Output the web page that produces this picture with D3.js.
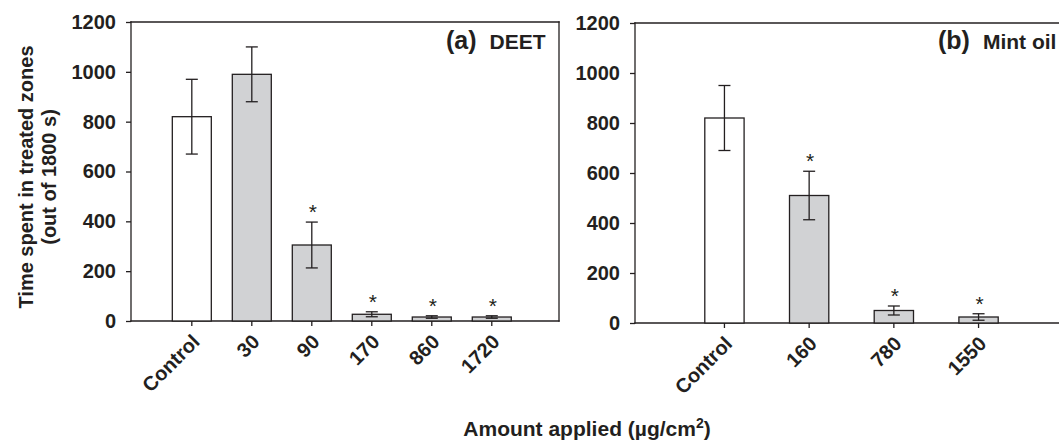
<!doctype html>
<html lang="en">
  <head>
    <meta charset="utf-8">
    <title>Time spent in treated zones</title>
    <script src="https://d3js.org/d3.v7.min.js"></script>
    <style>
      html, body { margin: 0; background: white; overflow: hidden; }
      svg { display: block; }
      text { font-family: "Liberation Sans", Arial, sans-serif; fill: #231f20; }
      .axis text { font-size: 20px; font-weight: bold; }
      .axis path, .axis line { stroke: #231f20; stroke-width: 1.3; }
    </style>
  </head>

  <body>
    <svg width="1059" height="440"></svg>
    <script>
      var yTicks = [0, 200, 400, 600, 800, 1000, 1200];

      var categoriesA = ['Control', '30', '90', '170', '860', '1720'];
      var meansA = [820, 990, 305, 27, 16, 16];
      var errorsA = [150, 110, 92, 10, 5, 5];
      var starsA = [false, false, true, true, true, true];

      var categoriesB = ['Control', '160', '780', '1550'];
      var meansB = [820, 510, 50, 24];
      var errorsB = [130, 97, 18, 13];
      var starsB = [false, true, true, true];

      var svg = d3.select('svg');
      var ink = '#231f20';

      function panel(opts) {
        var x = d3.scaleBand()
          .domain(opts.cats)
          .range([opts.left, opts.right])
          .paddingInner(opts.pi)
          .paddingOuter(opts.po)
          .align(opts.align);

        var y = d3.scaleLinear()
          .domain([0, 1200])
          .range([opts.bottom, opts.top]);

        var rows = opts.cats.map(function(c, i) {
          return { cat: c, mean: opts.means[i], err: opts.errs[i], star: opts.stars[i], i: i };
        });

        var g = svg.append('g');

        // frame: left + bottom double as axis lines; panel b runs off the right edge
        var frame = [[opts.left, opts.top, opts.right, opts.top],
                     [opts.left, opts.top, opts.left, opts.bottom],
                     [opts.left, opts.bottom, opts.right, opts.bottom]];
        if (opts.rightLine) frame.push([opts.right, opts.top, opts.right, opts.bottom]);
        g.selectAll('line.frame').data(frame).enter().append('line')
          .attr('class', 'frame')
          .attr('x1', function(d) { return d[0]; }).attr('y1', function(d) { return d[1]; })
          .attr('x2', function(d) { return d[2]; }).attr('y2', function(d) { return d[3]; })
          .attr('stroke', ink).attr('stroke-width', 1.3).attr('stroke-linecap', 'square');

        g.selectAll('rect.bar').data(rows).enter().append('rect')
          .attr('class', 'bar')
          .attr('x', function(d) { return x(d.cat); })
          .attr('y', function(d) { return y(d.mean); })
          .attr('width', x.bandwidth())
          .attr('height', function(d) { return y(0) - y(d.mean); })
          .attr('fill', function(d) { return d.i === 0 ? 'white' : '#d1d2d4'; })
          .attr('stroke', ink).attr('stroke-width', 1.3);

        var cx = function(d) { return x(d.cat) + x.bandwidth() / 2; };

        var eb = g.selectAll('g.err').data(rows).enter().append('g')
          .attr('class', 'err').attr('stroke', ink).attr('stroke-width', 1.3);
        eb.append('line')
          .attr('x1', cx).attr('x2', cx)
          .attr('y1', function(d) { return y(d.mean + d.err); })
          .attr('y2', function(d) { return y(d.mean - d.err); });
        eb.append('line')
          .attr('x1', function(d) { return cx(d) - 6; }).attr('x2', function(d) { return cx(d) + 6; })
          .attr('y1', function(d) { return y(d.mean + d.err); })
          .attr('y2', function(d) { return y(d.mean + d.err); });
        eb.append('line')
          .attr('x1', function(d) { return cx(d) - 6; }).attr('x2', function(d) { return cx(d) + 6; })
          .attr('y1', function(d) { return y(d.mean - d.err); })
          .attr('y2', function(d) { return y(d.mean - d.err); });

        g.selectAll('text.star').data(rows.filter(function(d) { return d.star; })).enter().append('text')
          .attr('class', 'star')
          .attr('x', function(d) { return cx(d) + 1; })
          .attr('y', function(d) { return y(d.mean + d.err) - 3; })
          .attr('text-anchor', 'middle')
          .style('font-size', '21px')
          .text('*');

        var yAxis = g.append('g')
          .attr('class', 'axis')
          .attr('transform', 'translate(' + opts.left + ',0)')
          .call(d3.axisLeft(y).tickValues(yTicks).tickFormat(d3.format('d'))
            .tickSize(5).tickSizeOuter(0).tickPadding(10));
        yAxis.select('.domain').remove();

        var xAxis = g.append('g')
          .attr('class', 'axis')
          .attr('transform', 'translate(0,' + opts.bottom + ')')
          .call(d3.axisBottom(x).tickSize(5).tickSizeOuter(0));
        xAxis.select('.domain').remove();
        xAxis.selectAll('text')
          .attr('x', 0).attr('y', 0).attr('dy', 0)
          .attr('text-anchor', 'end')
          .attr('transform', 'translate(9,22) rotate(-45)');

        var lab = g.append('text')
          .attr('x', opts.labelX).attr('y', 49)
          .style('font-weight', 'bold');
        lab.append('tspan').style('font-size', '25px').text(opts.tag);
        lab.append('tspan').attr('dx', 13).style('font-size', '21px').text(opts.name);
      }

      panel({
        cats: categoriesA, means: meansA, errs: errorsA, stars: starsA,
        left: 131, right: 559, rightLine: true, top: 22, bottom: 321,
        pi: 0.35, po: 0.742, align: 0.464,
        tag: '(a)', name: 'DEET', labelX: 446
      });

      panel({
        cats: categoriesB, means: meansB, errs: errorsB, stars: starsB,
        left: 635, right: 1068, rightLine: false, top: 23, bottom: 323,
        pi: 0.536, po: 0.824, align: 0.5,
        tag: '(b)', name: 'Mint oil', labelX: 938
      });

      // y axis title
      var yt = svg.append('text')
        .attr('transform', 'translate(33,177) rotate(-90)')
        .attr('text-anchor', 'middle')
        .style('font-size', '20px').style('font-weight', 'bold');
      yt.append('tspan').attr('x', 0).attr('y', 0).text('Time spent in treated zones');
      yt.append('tspan').attr('x', 0).attr('y', 23).text('(out of 1800 s)');

      // x axis title
      var xt = svg.append('text')
        .attr('x', 587).attr('y', 436)
        .attr('text-anchor', 'middle')
        .style('font-size', '21px').style('font-weight', 'bold');
      xt.append('tspan').text('Amount applied (\u00b5g/cm');
      xt.append('tspan').attr('dy', -8).style('font-size', '14px').text('2');
      xt.append('tspan').attr('dy', 8).text(')');
    </script>
  </body>
</html>
